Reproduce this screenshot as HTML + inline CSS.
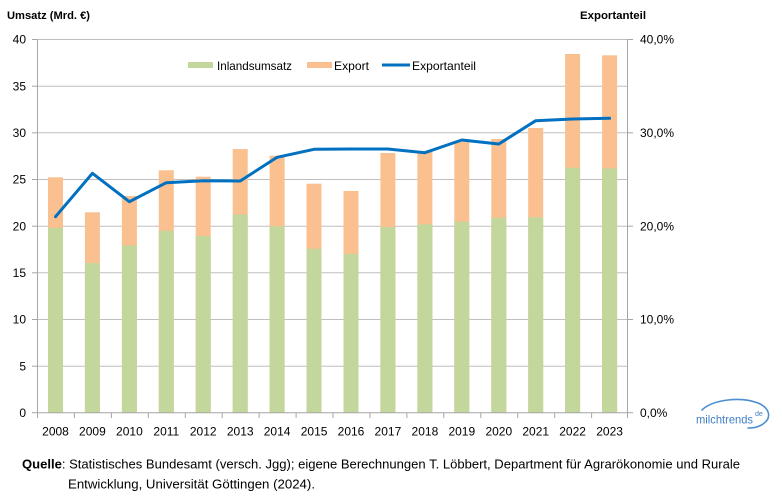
<!DOCTYPE html>
<html><head><meta charset="utf-8"><style>
html,body{margin:0;padding:0;background:#fff;}
svg{display:block;font-family:"Liberation Sans",sans-serif;}
</style></head><body>
<svg width="782" height="496" viewBox="0 0 782 496" xmlns="http://www.w3.org/2000/svg">
<rect width="782" height="496" fill="#fff"/>
<!-- gridlines -->
<g stroke="#BFBFBF" stroke-width="1">
<line x1="37" y1="39.5" x2="628" y2="39.5"/>
<line x1="37" y1="86.2" x2="628" y2="86.2"/>
<line x1="37" y1="132.8" x2="628" y2="132.8"/>
<line x1="37" y1="179.5" x2="628" y2="179.5"/>
<line x1="37" y1="226.2" x2="628" y2="226.2"/>
<line x1="37" y1="272.8" x2="628" y2="272.8"/>
<line x1="37" y1="319.5" x2="628" y2="319.5"/>
<line x1="37" y1="366.2" x2="628" y2="366.2"/>
</g>
<!-- bars: export (total) -->
<g fill="#FAC090">
<rect x="48" y="177.3" width="15" height="235.4"/>
<rect x="84.9" y="212.3" width="15" height="200.4"/>
<rect x="121.9" y="196" width="15" height="216.7"/>
<rect x="158.8" y="170.3" width="15" height="242.4"/>
<rect x="195.7" y="176.7" width="15" height="236"/>
<rect x="232.7" y="149" width="15" height="263.7"/>
<rect x="269.6" y="155.7" width="15" height="257"/>
<rect x="306.5" y="183.7" width="15" height="229"/>
<rect x="343.5" y="191" width="15" height="221.7"/>
<rect x="380.4" y="153" width="15" height="259.7"/>
<rect x="417.4" y="151.7" width="15" height="261"/>
<rect x="454.3" y="141.7" width="15" height="271"/>
<rect x="491.3" y="139" width="15" height="273.7"/>
<rect x="528.2" y="128" width="15" height="284.7"/>
<rect x="565.1" y="54" width="15" height="358.7"/>
<rect x="602.1" y="55.3" width="15" height="357.4"/>
</g>
<g fill="#C3D69B">
<rect x="48" y="227.7" width="15" height="185"/>
<rect x="84.9" y="263" width="15" height="149.7"/>
<rect x="121.9" y="245.3" width="15" height="167.4"/>
<rect x="158.8" y="230.7" width="15" height="182"/>
<rect x="195.7" y="236" width="15" height="176.7"/>
<rect x="232.7" y="214.3" width="15" height="198.4"/>
<rect x="269.6" y="226.3" width="15" height="186.4"/>
<rect x="306.5" y="248.7" width="15" height="164"/>
<rect x="343.5" y="254" width="15" height="158.7"/>
<rect x="380.4" y="227" width="15" height="185.7"/>
<rect x="417.4" y="224.3" width="15" height="188.4"/>
<rect x="454.3" y="221.7" width="15" height="191"/>
<rect x="491.3" y="217.7" width="15" height="195"/>
<rect x="528.2" y="217.3" width="15" height="195.4"/>
<rect x="565.1" y="167.7" width="15" height="245"/>
<rect x="602.1" y="168.3" width="15" height="244.4"/>
</g>
<!-- axes -->
<g stroke="#A6A6A6" stroke-width="1">
<line x1="37.5" y1="39.5" x2="37.5" y2="412.7"/>
<line x1="627.5" y1="39.5" x2="627.5" y2="412.7"/>
<line x1="37" y1="412.7" x2="628" y2="412.7"/>
<!-- left ticks -->
<line x1="32" y1="39.5" x2="37" y2="39.5"/>
<line x1="32" y1="86.2" x2="37" y2="86.2"/>
<line x1="32" y1="132.8" x2="37" y2="132.8"/>
<line x1="32" y1="179.5" x2="37" y2="179.5"/>
<line x1="32" y1="226.2" x2="37" y2="226.2"/>
<line x1="32" y1="272.8" x2="37" y2="272.8"/>
<line x1="32" y1="319.5" x2="37" y2="319.5"/>
<line x1="32" y1="366.2" x2="37" y2="366.2"/>
<line x1="32" y1="412.7" x2="37" y2="412.7"/>
<!-- right ticks -->
<line x1="628" y1="39.5" x2="633" y2="39.5"/>
<line x1="628" y1="132.8" x2="633" y2="132.8"/>
<line x1="628" y1="226.2" x2="633" y2="226.2"/>
<line x1="628" y1="319.5" x2="633" y2="319.5"/>
<line x1="628" y1="412.7" x2="633" y2="412.7"/>
<!-- bottom ticks -->
<line x1="37.5" y1="412.7" x2="37.5" y2="418"/>
<line x1="74.4" y1="412.7" x2="74.4" y2="418"/>
<line x1="111.4" y1="412.7" x2="111.4" y2="418"/>
<line x1="148.3" y1="412.7" x2="148.3" y2="418"/>
<line x1="185.3" y1="412.7" x2="185.3" y2="418"/>
<line x1="222.2" y1="412.7" x2="222.2" y2="418"/>
<line x1="259.1" y1="412.7" x2="259.1" y2="418"/>
<line x1="296.1" y1="412.7" x2="296.1" y2="418"/>
<line x1="333" y1="412.7" x2="333" y2="418"/>
<line x1="370" y1="412.7" x2="370" y2="418"/>
<line x1="406.9" y1="412.7" x2="406.9" y2="418"/>
<line x1="443.8" y1="412.7" x2="443.8" y2="418"/>
<line x1="480.8" y1="412.7" x2="480.8" y2="418"/>
<line x1="517.7" y1="412.7" x2="517.7" y2="418"/>
<line x1="554.7" y1="412.7" x2="554.7" y2="418"/>
<line x1="591.6" y1="412.7" x2="591.6" y2="418"/>
<line x1="627.5" y1="412.7" x2="627.5" y2="418"/>
</g>
<!-- line -->
<polyline fill="none" stroke="#0070C0" stroke-width="3" stroke-linejoin="round" stroke-linecap="round"
points="55.5,216.7 92.4,173.3 129.4,201.7 166.3,182.7 203.2,180.7 240.2,181 277.1,157.3 314.1,149.3 351,149 387.9,149 424.9,152.7 461.8,140 498.8,144 535.7,120.7 572.6,119 609.6,118.3"/>
<!-- left labels -->
<g font-size="12" fill="#000" text-anchor="end">
<text x="26" y="43.7">40</text>
<text x="26" y="90.4">35</text>
<text x="26" y="137">30</text>
<text x="26" y="183.7">25</text>
<text x="26" y="230.4">20</text>
<text x="26" y="277">15</text>
<text x="26" y="323.7">10</text>
<text x="26" y="370.4">5</text>
<text x="26" y="417">0</text>
</g>
<g font-size="12" fill="#000">
<text x="640" y="43.7">40,0%</text>
<text x="640" y="137">30,0%</text>
<text x="640" y="230.4">20,0%</text>
<text x="640" y="323.7">10,0%</text>
<text x="640" y="417">0,0%</text>
</g>
<!-- year labels -->
<g font-size="12" fill="#000" text-anchor="middle">
<text x="55.5" y="435.5">2008</text>
<text x="92.4" y="435.5">2009</text>
<text x="129.4" y="435.5">2010</text>
<text x="166.3" y="435.5">2011</text>
<text x="203.2" y="435.5">2012</text>
<text x="240.2" y="435.5">2013</text>
<text x="277.1" y="435.5">2014</text>
<text x="314.1" y="435.5">2015</text>
<text x="351" y="435.5">2016</text>
<text x="387.9" y="435.5">2017</text>
<text x="424.9" y="435.5">2018</text>
<text x="461.8" y="435.5">2019</text>
<text x="498.8" y="435.5">2020</text>
<text x="535.7" y="435.5">2021</text>
<text x="572.6" y="435.5">2022</text>
<text x="609.6" y="435.5">2023</text>
</g>
<!-- titles -->
<text x="7" y="19" font-size="11" font-weight="bold" fill="#000" textLength="83" lengthAdjust="spacingAndGlyphs">Umsatz (Mrd. €)</text>
<text x="580" y="19" font-size="11" font-weight="bold" fill="#000" textLength="66" lengthAdjust="spacingAndGlyphs">Exportanteil</text>
<!-- legend -->
<rect x="188" y="62" width="25" height="6" fill="#C3D69B"/>
<text x="217" y="70" font-size="12" fill="#000" textLength="75" lengthAdjust="spacingAndGlyphs">Inlandsumsatz</text>
<rect x="307" y="62" width="25" height="6" fill="#FAC090"/>
<text x="334" y="70" font-size="12" fill="#000" textLength="35" lengthAdjust="spacingAndGlyphs">Export</text>
<line x1="382" y1="65" x2="410" y2="65" stroke="#0070C0" stroke-width="3"/>
<text x="412" y="70" font-size="12" fill="#000" textLength="64" lengthAdjust="spacingAndGlyphs">Exportanteil</text>
<!-- logo -->
<path d="M702,410 C712,400 740,396 758,403 C770,408 772,418 763,424 C759,427 753,428 748,428" fill="none" stroke="#4A8FD2" stroke-width="1.6" stroke-linecap="round"/>
<text x="696" y="423.5" font-size="12" fill="#3F7FC4" textLength="57" lengthAdjust="spacingAndGlyphs">milchtrends</text>
<text x="755" y="416" font-size="7" fill="#3F7FC4">de</text>
<!-- footer -->
<text x="22" y="468.5" font-size="13" fill="#000" textLength="718" lengthAdjust="spacingAndGlyphs"><tspan font-weight="bold">Quelle</tspan>: Statistisches Bundesamt (versch. Jgg); eigene Berechnungen T. Löbbert, Department für Agrarökonomie und Rurale</text>
<text x="68" y="488.5" font-size="13" fill="#000" textLength="247" lengthAdjust="spacingAndGlyphs">Entwicklung, Universität Göttingen (2024).</text>
</svg>
</body></html>
